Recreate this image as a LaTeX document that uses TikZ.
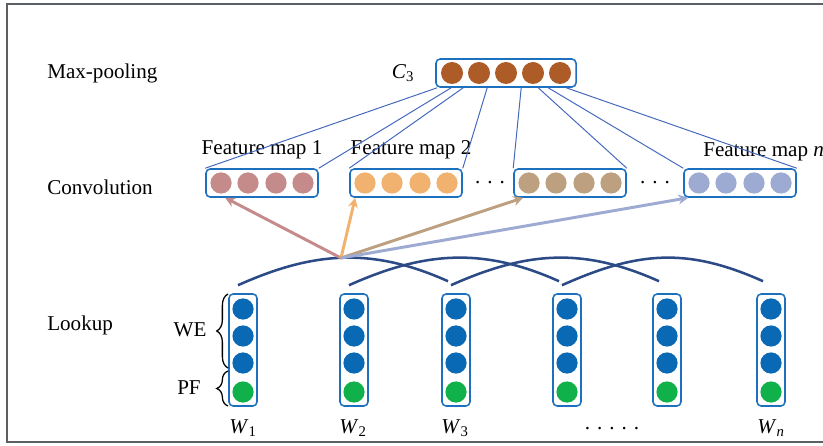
\documentclass[tikz,border=0pt]{standalone}
\usepackage{fontspec}
\setmainfont{Liberation Serif}
\usetikzlibrary{arrows.meta, calc, decorations.pathreplacing}

\definecolor{boxblue}{HTML}{1C70BE}
\definecolor{linkblue}{HTML}{4468BC}
\definecolor{spannavy}{HTML}{2B4A86}
\definecolor{poolc}{HTML}{AD5B27}
\definecolor{fmA}{HTML}{C48B8A}
\definecolor{fmB}{HTML}{F0B26E}
\definecolor{fmC}{HTML}{BDA080}
\definecolor{fmD}{HTML}{9DAAD2}
\definecolor{weblue}{HTML}{0A69B4}
\definecolor{pfgreen}{HTML}{10B04B}
\definecolor{framegray}{HTML}{5B6065}

\tikzstyle{layer} = [anchor=west, inner sep=0pt]
\tikzstyle{vecbox} = [rectangle, rounded corners=3pt, draw=boxblue, line width=1.1pt, minimum width=2.8cm, minimum height=0.7cm]
\tikzstyle{unit} = [circle, inner sep=0pt, minimum size=0.53cm]
\tikzstyle{link} = [linkblue, line width=0.7pt]
\tikzstyle{span} = [spannavy, line width=1.8pt]
\tikzstyle{feed} = [line width=2.1pt, -{Stealth[length=7pt, width=7pt]}]
\tikzstyle{curly} = [line width=0.9pt, decorate, decoration={brace, amplitude=8pt}]

\begin{document}
\begin{tikzpicture}[x=0.025cm, y=-0.025cm, font=\fontsize{15}{18}\selectfont]
			\useasboundingbox (0,0) rectangle (823,446);
			\draw[framegray, line width=1.1pt] (840,4) -- (7,4) -- (7,442) -- (840,442);
			
			% layer names
			\node[layer] (pool) at (47,73) {Max-pooling};
			\node[layer] (conv) at (47,187) {Convolution};
			\node[layer] (look) at (47,325) {Lookup};
			
			% max-pooling vector
			\node[vecbox, minimum width=3.5cm] (c3) at (506,73) {};
			\foreach \d in {-54,-27,0,27,54}
				\node[unit, fill=poolc, minimum size=0.55cm] at ($(c3)+(\d,0)$) {};
			\node (c3lab) at (403,73) {\textit{C}\textsubscript{3}};
			
			% feature maps
			\foreach \n/\x/\c in {1/262/fmA,2/406/fmB,3/570/fmC,4/740/fmD} {
				\node[vecbox] (fm\n) at (\x,183) {};
				\foreach \d in {-41,-14,14,41}
					\node[unit, fill=\c] at ($(fm\n)+(\d,0)$) {};
			}
			\node (fml1) at (262,150) {Feature map 1};
			\node (fml2) at (411,150) {Feature map 2};
			\node[layer] (fmln) at (703,152) {Feature map \textit{n}};
			\node (dots1) at (490,183) {. . .};
			\node (dots2) at (655,183) {. . .};
			
			\foreach \s/\t in {2/fm1.north west,16/fm1.north east,28/fm2.north west,52/fm2.north east,86/fm3.north west,103/fm3.north east,113/fm4.north west,131/fm4.north east}
				\draw[link] ($(c3.south west)+(\s,0)$) -- (\t);
			
			% lookup columns
			\foreach \i/\x in {1/243,2/354,3/456,4/567,5/667,6/771} {
				\node[vecbox, minimum width=0.7cm, minimum height=2.8cm] (w\i) at (\x,350) {};
				\foreach \y/\c in {309/weblue,336/weblue,363/weblue,392/pfgreen}
					\node[unit, fill=\c] at (\x,\y) {};
			}
			\node (l1) at (243,428) {\textit{W}\textsubscript{1}};
			\node (l2) at (353,428) {\textit{W}\textsubscript{2}};
			\node (l3) at (455,428) {\textit{W}\textsubscript{3}};
			\node (ldots) at (612,429) {. . . . .};
			\node (l6) at (771,428) {\textit{W}\textsubscript{\textit{n}}};
			
			\draw[curly] (228,368) -- (228,294);
			\draw[curly] (228,406) -- (228,371);
			\node (we) at (190,330) {WE};
			\node (pf) at (189,388) {PF};
			
			% window spans
			\foreach \a/\b in {1/3,2/4,3/5,4/6}
				\draw[span] ($(w\a.north)+(-5,-8)$) .. controls +(76,-34) and +(-76,-34) .. ($(w\b.north)+(-8,-12)$);
			
			\coordinate (hub) at (341,258);
			\draw[feed, fmA] (hub) -- ($(fm1.south west)+(20,0)$);
			\draw[feed, fmB] (hub) -- ($(fm2.south west)+(6,0)$);
			\draw[feed, fmC] (hub) -- ($(fm3.south west)+(10,0)$);
			\draw[feed, fmD] (hub) -- ($(fm4.south west)+(5,0)$);
			
		\end{tikzpicture}
\end{document}
